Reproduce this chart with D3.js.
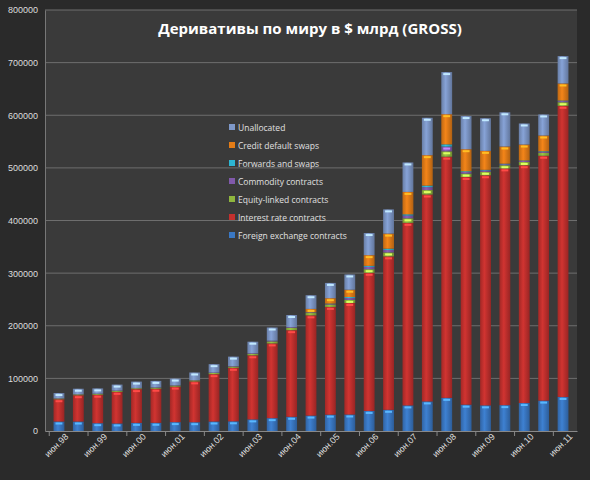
<!DOCTYPE html>
<html><head><meta charset="utf-8">
<script src="https://cdn.jsdelivr.net/npm/d3@7"></script>
<style>body{margin:0;background:#2a2a2a;}svg{display:block;font-family:"Open Sans",sans-serif;}</style>
</head><body><div id="chart"></div>
<script>
var width = 590, height = 480,
  margin = {top: 10, right: 13, bottom: 49, left: 45};

var periods = [];
for (var yr = 98; yr <= 111; yr++) {
  var s = String(yr % 100).padStart(2, '0');
  periods.push('июн.' + s);
  if (yr < 111) periods.push('дек.' + s);
}

var seriesNames = ['Foreign exchange contracts', 'Interest rate contracts', 'Equity-linked contracts',
  'Commodity contracts', 'Forwards and swaps', 'Credit default swaps', 'Unallocated'];
var colors = ['#3a78c4', '#c3302e', '#8fb63e', '#8059ab', '#2db6d3', '#e37c17', '#7e98c8'];

var fx = [18011, 18011, 14899, 14344, 15494, 15666, 16910, 16748, 18068, 18448, 22071, 24475, 26997, 29289, 31081, 31364, 38127, 40271, 48645, 56238, 62983, 50042, 48732, 49181, 53153, 57796, 64698];
var ir = [42368, 50015, 54072, 60091, 64125, 64668, 67465, 77568, 89955, 101658, 121799, 141991, 164626, 190502, 204795, 211970, 262526, 291582, 346937, 393138, 458304, 432657, 437228, 449875, 451831, 465260, 553240];
var eq = [1274, 1488, 1511, 1809, 1645, 1891, 1884, 1881, 2214, 2309, 2799, 3787, 4521, 4385, 4551, 5793, 6782, 7488, 8590, 8469, 10177, 6471, 6584, 5937, 6260, 5635, 6841];
var comm = [451, 415, 441, 548, 584, 662, 590, 598, 777, 923, 1040, 1406, 1270, 1000, 1200, 3500, 4500, 4800, 5300, 5600, 9000, 3000, 2500, 1900, 1900, 1900, 2100];
var fwd = [0, 0, 0, 0, 0, 0, 0, 0, 0, 0, 0, 0, 0, 443, 548, 1934, 1894, 2315, 2267, 2855, 4229, 1427, 1229, 1044, 952, 1022, 1097];
var cds = [0, 0, 0, 0, 0, 0, 0, 0, 0, 0, 0, 0, 0, 6396, 10211, 13908, 20352, 28650, 42580, 57894, 57325, 41883, 36046, 32693, 30261, 29898, 32409];
var unalloc = [10000, 10389, 10000, 11408, 12000, 12313, 12770, 14375, 16000, 18000, 22000, 25000, 23000, 26000, 29000, 29000, 42000, 46000, 56000, 71000, 80000, 63000, 62000, 65000, 40000, 40000, 52000];
var yTicks = [0, 100000, 200000, 300000, 400000, 500000, 600000, 700000, 800000];

var seriesVals = [fx, ir, eq, comm, fwd, cds, unalloc];
var rows = periods.map(function(p, i) {
  var r = {period: p};
  seriesNames.forEach(function(n, k) { r[n] = seriesVals[k][i]; });
  return r;
});
var stacked = d3.stack().keys(seriesNames)(rows);

var w = width - margin.left - margin.right, h = height - margin.top - margin.bottom;
var svgRoot = d3.select('#chart').append('svg').attr('width', width).attr('height', height);
svgRoot.append('rect').attr('width', width).attr('height', height).attr('fill', '#2a2a2a');

var defs = svgRoot.append('defs');
colors.forEach(function(c, k) {
  var g = defs.append('linearGradient').attr('id', 'g' + k).attr('x1', 0).attr('x2', 1).attr('y1', 0).attr('y2', 0);
  g.append('stop').attr('offset', '0%').attr('stop-color', d3.color(c).darker(0.5));
  g.append('stop').attr('offset', '40%').attr('stop-color', d3.color(c).brighter(0.2));
  g.append('stop').attr('offset', '100%').attr('stop-color', d3.color(c).darker(0.7));
});

var svg = svgRoot.append('g').attr('transform', 'translate(' + margin.left + ',' + margin.top + ')');
svg.append('rect').attr('width', w).attr('height', h).attr('fill', '#3a3a3a');

var x = d3.scaleBand().domain(periods).range([0, w]).padding(0.44);
var y = d3.scaleLinear().domain([0, 800000]).range([h, 0]);

svg.selectAll('.grid').data(yTicks.slice(1)).enter().append('line')
  .attr('x1', 0).attr('x2', w).attr('y1', y).attr('y2', y)
  .attr('stroke', '#6e6e6e').attr('stroke-width', 1);

var yAxis = svg.append('g').call(d3.axisLeft(y).tickValues(yTicks).tickFormat(d3.format('d')).tickSize(0).tickPadding(7));
yAxis.select('.domain').attr('stroke', '#777');
yAxis.selectAll('text').attr('fill', '#ddd').style('font-size', '9px');

var layer = svg.selectAll('.layer').data(stacked).enter().append('g')
  .attr('fill', function(d, k) { return 'url(#g' + k + ')'; });
layer.selectAll('rect').data(function(d) { return d; }).enter().append('rect')
  .attr('x', function(d) { return x(d.data.period); })
  .attr('width', x.bandwidth())
  .attr('y', function(d) { return y(d[1]); })
  .attr('height', function(d) { return Math.max(0, y(d[0]) - y(d[1])); });
// light cap on each segment
layer.each(function(s, k) {
  d3.select(this).selectAll('.cap').data(s.filter(function(d) { return y(d[0]) - y(d[1]) > 3; })).enter().append('rect')
    .attr('x', function(d) { return x(d.data.period) + 2; })
    .attr('width', x.bandwidth() - 4)
    .attr('y', function(d) { return y(d[1]) + 1; })
    .attr('height', 2)
    .attr('fill', d3.color(colors[k]).brighter(1.2));
});

var band = x.step();
var xAxis = svg.append('g').attr('transform', 'translate(0,' + h + ')')
  .call(d3.axisBottom(x).tickValues(periods.filter(function(p, i) { return i % 2 === 0; })).tickSize(0).tickPadding(6));
xAxis.select('.domain').attr('stroke', '#888');
xAxis.selectAll('text').attr('fill', '#ddd').style('font-size', '9px')
  .attr('text-anchor', 'end').attr('dx', '0.3em').attr('dy', '0.6em').attr('transform', 'rotate(-45)');
svg.selectAll('.xt').data(periods.filter(function(p, i) { return i % 2 === 0; })).enter().append('line')
  .attr('x1', function(p) { return x(p) + x.bandwidth() / 2 - band / 2; })
  .attr('x2', function(p) { return x(p) + x.bandwidth() / 2 - band / 2; })
  .attr('y1', h).attr('y2', h + 5).attr('stroke', '#888');

var legend = svgRoot.append('g').attr('transform', 'translate(229,127)');
seriesNames.slice().reverse().forEach(function(n, i) {
  var k = seriesNames.length - 1 - i;
  var g = legend.append('g').attr('transform', 'translate(0,' + (i * 18) + ')');
  g.append('rect').attr('width', 6).attr('height', 6).attr('y', -3).attr('fill', colors[k]);
  g.append('text').attr('x', 9).attr('y', 3.5).attr('fill', '#e0e0e0').style('font-size', '8.5px').text(n);
});

svgRoot.append('text').attr('x', 310).attr('y', 34).attr('text-anchor', 'middle')
  .attr('fill', '#fff').style('font-size', '15px').style('font-weight', 'bold')
  .text('Деривативы по миру в $ млрд (GROSS)');
</script></body></html>
